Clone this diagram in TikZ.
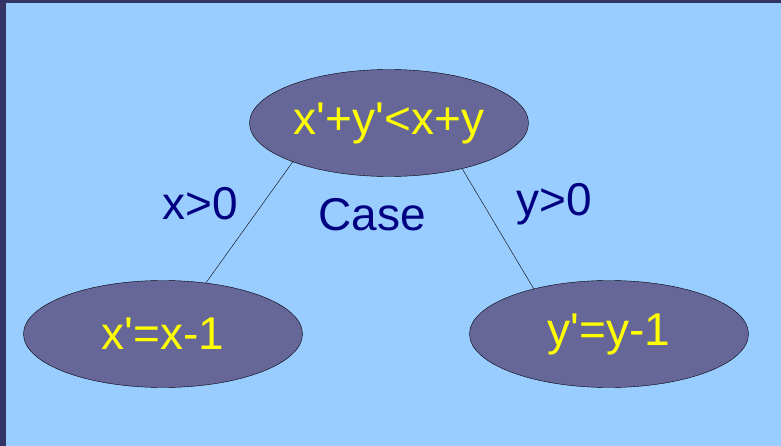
\documentclass[tikz,border=0pt]{standalone}
\usepackage{fontspec}
\setmainfont{Liberation Sans}
\usetikzlibrary{shapes.geometric}
\definecolor{SlideFrame}{HTML}{333366}
\definecolor{SlideBlue}{HTML}{99CCFF}
\definecolor{CaseFill}{HTML}{666699}
\definecolor{CaseText}{HTML}{FFFF00}
\definecolor{LabelNavy}{HTML}{000080}

\begin{document}
\begin{tikzpicture}[x=1pt, y=-1pt,
    casebox/.style={ellipse, draw=black, fill=CaseFill, text=CaseText,
        minimum width=279pt, minimum height=107pt, inner sep=0pt,
        font=\fontsize{46}{50}\selectfont},
    edgelabel/.style={text=LabelNavy, inner sep=0pt,
        font=\fontsize{46}{50}\selectfont}]
    % Slide background
    \fill[SlideFrame] (0,0) rectangle (781,446);
    \fill[SlideBlue] (6,3) rectangle (781,446);
    \useasboundingbox (0,0) rectangle (781,446);

    % Case nodes
    \node[casebox] (root) at (389,123) {x\textquotesingle+y\textquotesingle<x+y};
    \node[casebox] (xdec) at (163,334) {x\textquotesingle=x-1};
    \node[casebox] (ydec) at (609,334) {y\textquotesingle=y-1};

    % Branches
    \draw[black] (root.202.7) -- (xdec.50.2);
    \draw[black] (root.-32.4) -- (ydec.149.6);

    % Labels
    \node[edgelabel] (xpos) at (200,204) {x>0};
    \node[edgelabel] (case) at (372,215) {Case};
    \node[edgelabel] (ypos) at (554,204) {y>0};
\end{tikzpicture}
\end{document}
